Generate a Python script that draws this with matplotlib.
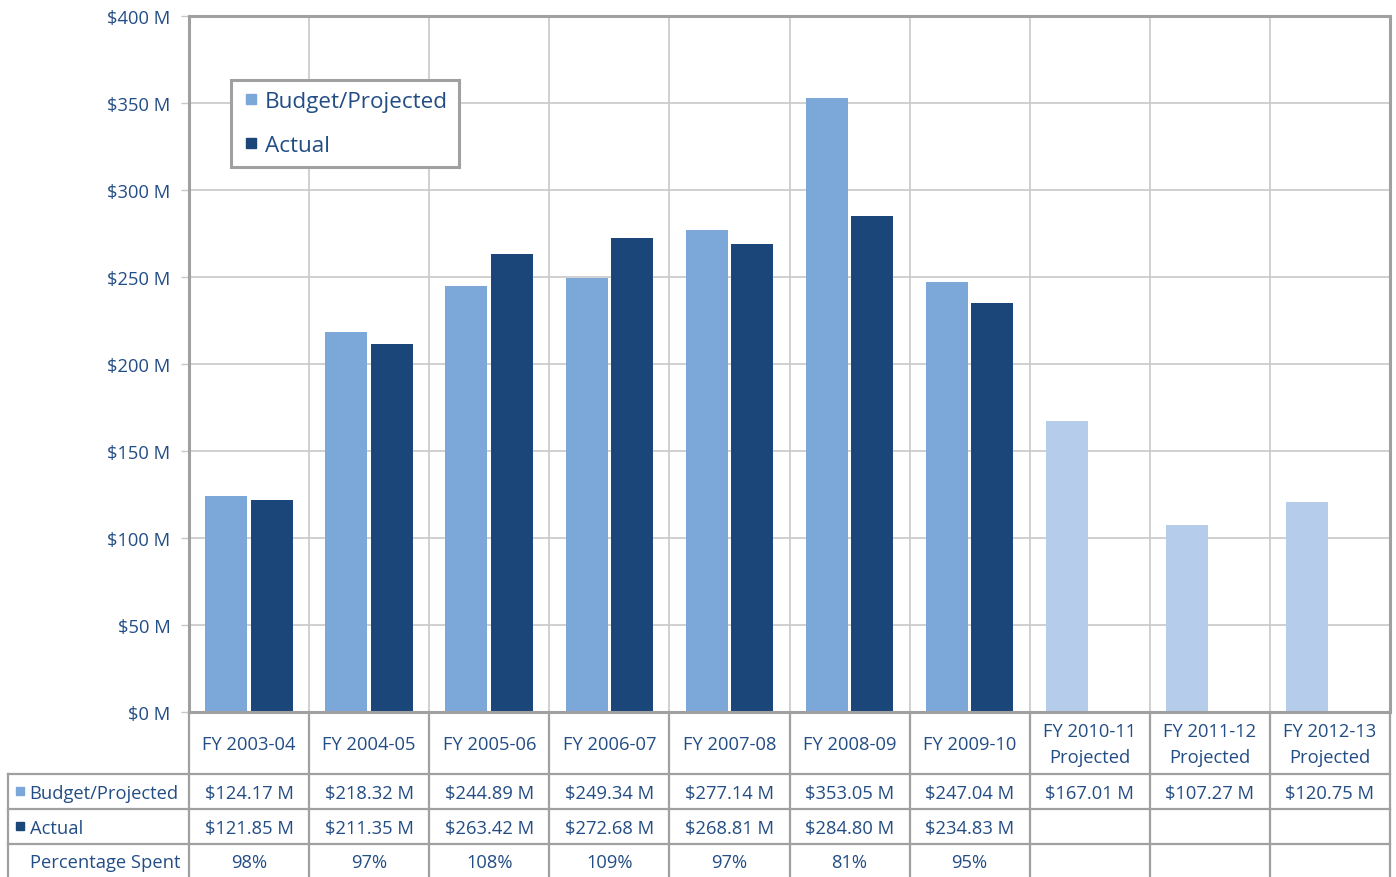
import matplotlib
matplotlib.use("Agg")
import matplotlib.pyplot as plt
from matplotlib.lines import Line2D

categories = ["FY 2003-04", "FY 2004-05", "FY 2005-06", "FY 2006-07", "FY 2007-08",
              "FY 2008-09", "FY 2009-10", "FY 2010-11\nProjected",
              "FY 2011-12\nProjected", "FY 2012-13\nProjected"]
budget = [124.17, 218.32, 244.89, 249.34, 277.14, 353.05, 247.04, 167.01, 107.27, 120.75]
actual = [121.85, 211.35, 263.42, 272.68, 268.81, 284.80, 234.83]
percent = [98, 97, 108, 109, 97, 81, 95]
n_actual_years = 7
yticks = [0, 50, 100, 150, 200, 250, 300, 350, 400]

C_BUDGET = "#7ba7d9"
C_ACTUAL = "#1b4679"
C_PROJ = "#b5cdea"
C_TEXT = "#234d85"
C_GRID = "#c8c8c8"
C_FRAME = "#a0a0a0"

plt.rcParams['font.family'] = ['Open Sans', 'DejaVu Sans']
FS = 13.2

W, H = 1396, 878
fig = plt.figure(figsize=(W / 100, H / 100), dpi=100)

def fx(px):
    return px / W

def fy(py):
    return 1 - py / H

ax = fig.add_axes([fx(189), fy(713), fx(1390) - fx(189), fy(17) - fy(713)])
n = len(categories)
xs = list(range(n))
off, bw = 0.19, 0.35
bcolors = [C_BUDGET if i < n_actual_years else C_PROJ for i in xs]
ax.bar([x - off for x in xs], budget, width=bw, color=bcolors, zorder=3)
ax.bar([x + off for x in xs[:len(actual)]], actual, width=bw, color=C_ACTUAL, zorder=3)

ax.set_xlim(-0.5, n - 0.5)
ax.set_ylim(0, 400)
ax.set_yticks(yticks)
ax.set_yticklabels([f"${v} M" for v in yticks], color=C_TEXT, fontsize=FS)
ax.set_xticks([b - 0.5 for b in range(n + 1)], minor=True)
ax.set_xticks([])
ax.tick_params(axis='y', direction='out', length=6, width=1, color=C_GRID, pad=7.5)
ax.tick_params(axis='x', which='minor', length=0)
ax.grid(axis='y', color=C_GRID, linewidth=1.2, zorder=0)
ax.grid(axis='x', which='minor', color=C_GRID, linewidth=1.2, zorder=0)
for s in ax.spines.values():
    s.set_color(C_FRAME)
    s.set_linewidth(2.2)
    s.set_zorder(5)

handles = [Line2D([], [], marker='s', linestyle='none', markersize=7, color=C_BUDGET),
           Line2D([], [], marker='s', linestyle='none', markersize=7, color=C_ACTUAL)]
leg = ax.legend(handles, ["Budget/Projected", "Actual"], loc='upper left',
                bbox_to_anchor=((231 - 189) / 1201, (713 - 81) / 696), borderaxespad=0,
                fontsize=16.2, labelcolor=C_TEXT, fancybox=False, framealpha=1,
                edgecolor=C_FRAME, handlelength=0.8, handletextpad=0.2,
                labelspacing=1.0, borderpad=0.5)
leg.get_frame().set_linewidth(2.2)

# data table
left_cols = (189 - 8) / ((1390 - 189) / n)
tax = fig.add_axes([fx(8), fy(878), fx(1390) - fx(8), fy(713) - fy(878)])
tax.set_xlim(-0.5 - left_cols, n - 0.5)
tax.set_ylim(878, 713)
tax.axis('off')
row_edges = [713, 775, 810, 845, 878]
lkw = dict(color=C_FRAME, linewidth=1.6, clip_on=False)
for y in row_edges[1:4]:
    tax.plot([-0.5 - left_cols, n - 0.5], [y, y], **lkw)
tax.plot([-0.5 - left_cols] * 2, [775, 878], **lkw)
for b in range(n + 1):
    tax.plot([b - 0.5] * 2, [713, 878], **lkw)

def mid(i):
    return (row_edges[i] + row_edges[i + 1]) / 2

for i, c in enumerate(categories):
    tax.text(i, mid(0) + 1, c, ha='center', va='center', color=C_TEXT, fontsize=FS,
             linespacing=1.55)
    tax.text(i, mid(1) + 1.5, f"${budget[i]:.2f} M", ha='center', va='center', color=C_TEXT, fontsize=FS)
for i, v in enumerate(actual):
    tax.text(i, mid(2) + 1.5, f"${v:.2f} M", ha='center', va='center', color=C_TEXT, fontsize=FS)
for i, p in enumerate(percent):
    tax.text(i, mid(3) + 1.5, f"{p}%", ha='center', va='center', color=C_TEXT, fontsize=FS)

xl = -0.5 - left_cols
tax.plot([xl + 0.1], [mid(1)], marker='s', markersize=6, color=C_BUDGET, clip_on=False)
tax.plot([xl + 0.1], [mid(2)], marker='s', markersize=6, color=C_ACTUAL, clip_on=False)
for r, lab in zip([1, 2, 3], ["Budget/Projected", "Actual", "Percentage Spent"]):
    tax.text(xl + 0.18, mid(r) + 1.5, lab, ha='left', va='center', color=C_TEXT, fontsize=FS)

fig.savefig("out.png", dpi=100)
